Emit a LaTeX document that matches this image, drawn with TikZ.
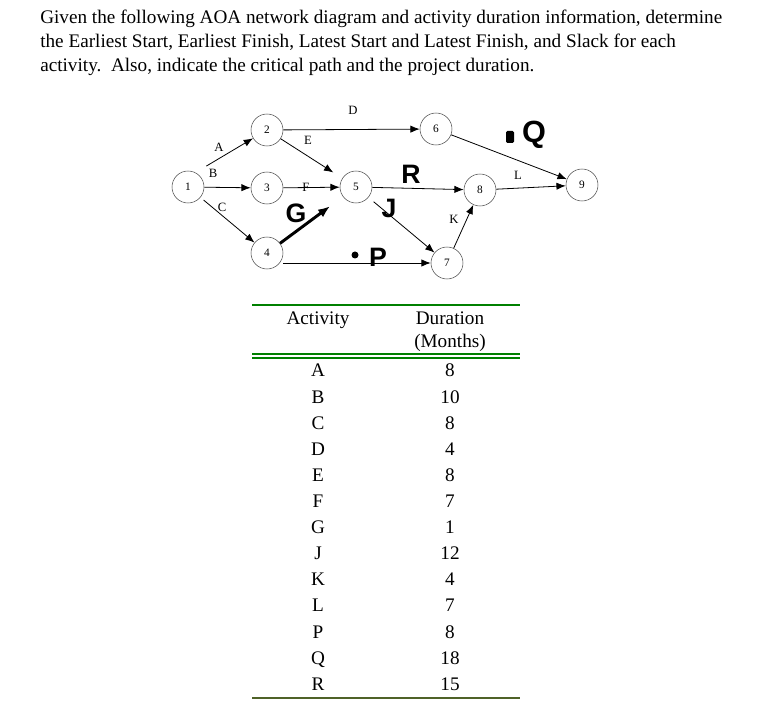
\documentclass[tikz,border=0pt]{standalone}
\usepackage{fontspec}
\setmainfont{Liberation Serif}
\setsansfont{Liberation Sans}
\usetikzlibrary{positioning}
\usetikzlibrary{arrows.meta}

\definecolor{rulegreen}{RGB}{0,128,0}
\definecolor{ruleolive}{RGB}{79,98,40}

\begin{document}
\begin{tikzpicture}[x=0.75pt,y=-0.75pt,
    event/.style={circle,draw=black!70,thin,minimum size=24pt,inner sep=0pt,font=\fontsize{8.5}{10}\selectfont},
    act/.style={-{Latex[length=7pt,width=5.5pt]},semithick},
    lab/.style={font=\fontsize{9.5}{11}\selectfont,inner sep=1pt},
    hand/.style={font=\sffamily\bfseries\fontsize{20}{22}\selectfont,inner sep=0pt},
    txt/.style={anchor=base west,inner sep=0pt,font=\fontsize{14.4}{17}\selectfont},
    cell/.style={anchor=base,inner sep=0pt,font=\fontsize{14.4}{17}\selectfont}]
        \useasboundingbox (0,0) rectangle (776,720);

        \node[txt] (t1) at (40,24) {Given the following AOA network diagram and activity duration information, determine};
        \node[txt] (t2) at (40,48) {the Earliest Start, Earliest Finish, Latest Start and Latest Finish, and Slack for each};
        \node[txt] (t3) at (40,72) {activity.\ \ Also, indicate the critical path and the project duration.};

        \node[event] (n1) at (188,187) {1};
        \node[event] (n2) at (267,130) {2};
        \node[event] (n3) at (267,188) {3};
        \node[event] (n4) at (267,253) {4};
        \node[event] (n5) at (356,187) {5};
        \node[event] (n6) at (436,129) {6};
        \node[event] (n7) at (447,263) {7};
        \node[event] (n8) at (480,190) {8};
        \node[event] (n9) at (582,185) {9};

        \draw[act,shorten <=6pt] ([yshift=4pt]n1.north east) -- (n2);
        \draw[act] (n1) -- (n3);
        \draw[act,shorten <=3pt] (n1) -- (n4);
        \draw[act] (n2) -- (n6);
        \draw[act,shorten >=8pt] (n2) -- (n5);
        \draw[act] (n3) -- (n5);
        \draw[-{Latex[length=9pt,width=7pt]},line width=2.2pt,shorten >=12pt] (n4) -- (n5);
        \draw[act] (n4.east |- n7) -- (n7);
        \draw[act,shorten <=5pt] (n5) -- (n7);
        \draw[act] (n5) -- (n8);
        \draw[act] (n7) -- (n8);
        \draw[act] (n6) -- (n9);
        \draw[act] (n8) -- (n9);

        \node[lab] (lA) at (219,147) {A};
        \node[lab] (lB) at (213,173) {B};
        \node[lab] (lC) at (222,207) {C};
        \node[lab] (lD) at (353,110) {D};
        \node[lab] (lE) at (308,140) {E};
        \node[lab] (lF) at (306,187) {F};
        \node[lab] (lK) at (454,219) {K};
        \node[lab] (lL) at (518,175) {L};

        \node[hand] (hG) at (296,213) {G};
        \node[hand] (hR) at (411,174) {R};
        \node[hand] (hJ) at (389,208) {J};
        \node[hand] (hP) at (378,257) {P};
        \node[hand,font=\sffamily\bfseries\fontsize{23}{25}\selectfont] (hQ) at (534,135) {Q};
        \fill (355,255) circle (3.5);
        \fill[rounded corners=1pt] (506,131) rectangle (514,143);

        \draw[rulegreen,line width=2.2pt] (252,305) -- (520,305);
        \node[cell] (hAct) at (318,325) {Activity};
        \node[cell] (hDur) at (450,325) {Duration};
        \node[cell] (hMon) at (450,348) {(Months)};
        \draw[rulegreen,line width=1.5pt] (252,354) -- (520,354);
        \draw[rulegreen,line width=1.5pt] (252,358.5) -- (520,358.5);

        \foreach \act/\dur [count=\i from 0] in {A/8,B/10,C/8,D/4,E/8,F/7,G/1,J/12,K/4,L/7,P/8,Q/18,R/15} {
            \node[cell] (a\i) at (318,377+26.1*\i) {\act};
            \node[cell] (m\i) at (450,377+26.1*\i) {\dur};
        }
        \draw[ruleolive,line width=2.2pt] (252,698) -- (520,698);
\end{tikzpicture}
\end{document}
